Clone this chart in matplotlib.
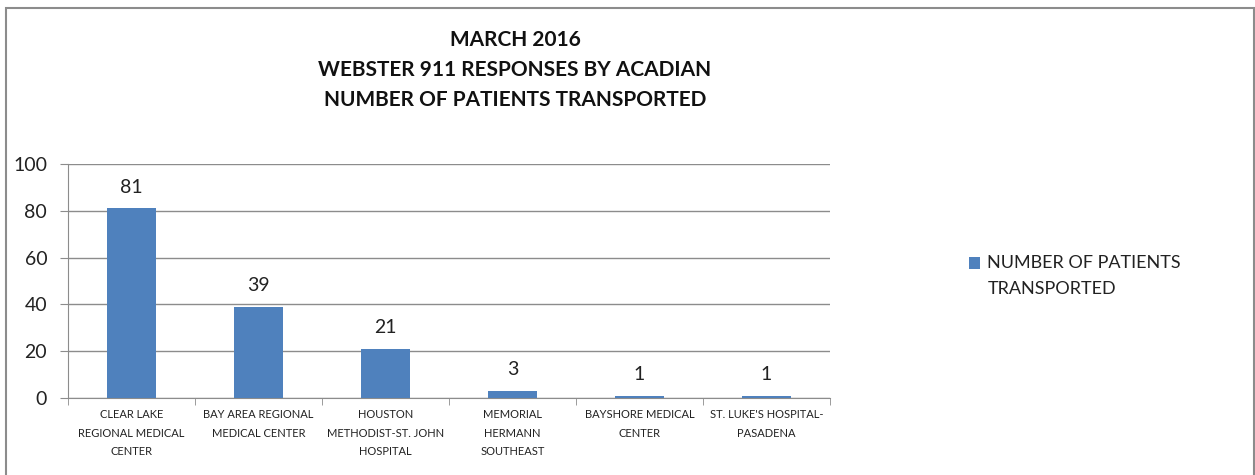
import matplotlib
matplotlib.use("Agg")
import matplotlib.pyplot as plt
from matplotlib.patches import Rectangle

categories = ["CLEAR LAKE\nREGIONAL MEDICAL\nCENTER", "BAY AREA REGIONAL\nMEDICAL CENTER",
              "HOUSTON\nMETHODIST-ST. JOHN\nHOSPITAL", "MEMORIAL\nHERMANN\nSOUTHEAST",
              "BAYSHORE MEDICAL\nCENTER", "ST. LUKE'S HOSPITAL-\nPASADENA"]
values = [81, 39, 21, 3, 1, 1]
series_name = "NUMBER OF PATIENTS\nTRANSPORTED"
title_lines = ["MARCH 2016", "WEBSTER 911 RESPONSES BY ACADIAN", "NUMBER OF PATIENTS TRANSPORTED"]
yticks = [0, 20, 40, 60, 80, 100]

plt.rcParams['font.family'] = ['Lato', 'DejaVu Sans']
W, H = 1255, 475
fig = plt.figure(figsize=(W/100, H/100), dpi=100)
ax = fig.add_axes([68/W, 1-398/H, (830-68)/W, (398-164)/H])

bar_color = '#4F81BD'
x = list(range(len(categories)))
bars = ax.bar(x, values, width=0.39, color=bar_color, label=series_name, zorder=3)
for xi, v in zip(x, values):
    ax.annotate(str(v), (xi, v), xytext=(0, 9), textcoords='offset points',
                ha='center', va='bottom', fontsize=14, color='#222222')

ax.set_xlim(-0.5, len(categories) - 0.5)
ax.set_ylim(0, 100)
ax.set_yticks(yticks)
ax.grid(axis='y', color='#8c8c8c', linewidth=1, zorder=0)
ax.set_xticks(x)
ax.set_xticklabels(categories, fontsize=8, linespacing=1.85, color='#222222')
ax.set_xticks([i - 0.5 for i in range(len(categories) + 1)], minor=True)
ax.tick_params(axis='x', which='major', length=0, pad=8)
ax.tick_params(axis='x', which='minor', length=5, color='#8c8c8c', direction='out')
ax.tick_params(axis='y', length=6, color='#8c8c8c', pad=9, labelsize=14, labelcolor='#222222')
for s in ['top', 'right']:
    ax.spines[s].set_visible(False)
for s in ['left', 'bottom']:
    ax.spines[s].set_color('#8c8c8c')

ys = [40, 70, 100]
for t, yy in zip(title_lines, ys):
    fig.text(515/W, 1-yy/H, t, ha='center', va='center', fontsize=15, fontweight='bold', color='#111111')

leg = fig.legend(handles=[bars], labels=[series_name], loc='upper left',
                 bbox_to_anchor=(953/W, 1-239/H), frameon=False, fontsize=13,
                 handlelength=0.6, handleheight=0.6, handletextpad=0.4, labelcolor='#222222')
for t in leg.get_texts():
    t.set_linespacing(1.75)
for h in leg.legend_handles:
    h.set_y(h.get_y() + 9.4)

fig.patches.append(Rectangle((6/W, -0.05), (1254-6)/W, (1-8/H) + 0.05, transform=fig.transFigure,
                             fill=False, edgecolor='#8c8c8c', linewidth=1.5, zorder=10))

fig.savefig('out.png', dpi=100, facecolor='white')
